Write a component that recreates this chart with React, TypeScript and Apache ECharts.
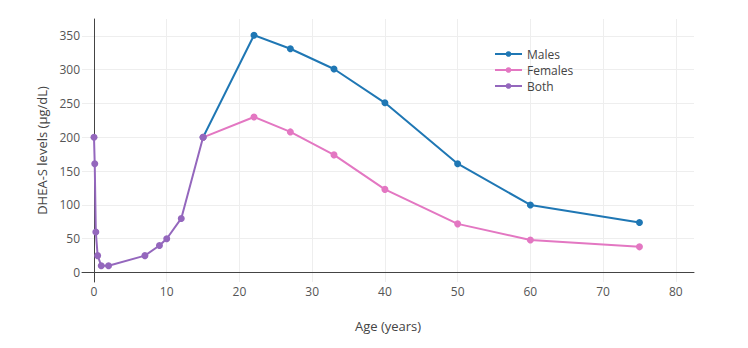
import React, { useEffect, useRef } from "react";
import * as echarts from "echarts";

const bothAges = [0, 0.1, 0.25, 0.5, 1, 2, 7, 9, 10, 12, 15];
const bothLevels = [200, 161, 60, 25, 10, 10, 25, 40, 50, 80, 200];
const adultAges = [15, 22, 27, 33, 40, 50, 60, 75];
const maleLevels = [200, 351, 331, 301, 251, 161, 100, 74];
const femaleLevels = [200, 230, 208, 174, 123, 72, 48, 38];
const xTicks = [0, 10, 20, 30, 40, 50, 60, 70, 80];
const yTicks = [0, 50, 100, 150, 200, 250, 300, 350];

const pair = (xs: number[], ys: number[]) => xs.map((x, i) => [x, ys[i]]);

export default function App() {
  const ref = useRef<HTMLDivElement>(null);
  useEffect(() => {
    document.body.style.margin = "0";
    if (!ref.current) return;
    const chart = echarts.init(ref.current, undefined, { renderer: "svg" });
    const font = "'Open Sans', sans-serif";
    const mkSeries = (name: string, color: string, data: number[][]) => ({
      name,
      type: "line",
      data,
      symbol: "circle",
      symbolSize: 7,
      showSymbol: true,
      lineStyle: { color, width: 2 },
      itemStyle: { color },
    });
    chart.setOption({
      animation: false,
      textStyle: { fontFamily: font },
      grid: { left: 82, right: 54, top: 19, bottom: 66 },
      legend: {
        orient: "vertical",
        left: 489,
        top: 43,
        itemWidth: 27,
        itemHeight: 7,
        itemGap: 4,
        textStyle: { color: "#444", fontSize: 12, fontFamily: font },
        data: ["Males", "Females", "Both"],
      },
      xAxis: {
        type: "value",
        min: -1.65,
        max: 82.5,
        name: "Age (years)",
        nameLocation: "middle",
        nameGap: 37,
        nameTextStyle: { color: "#444", fontSize: 13, fontFamily: font },
        axisLine: { show: true, onZero: true, lineStyle: { color: "#444", width: 1 } },
        axisTick: { show: false, customValues: xTicks },
        axisLabel: { customValues: xTicks, color: "#555", fontSize: 12, margin: 3, fontFamily: font },
        splitLine: { show: true, lineStyle: { color: "#eee", width: 1 } },
      },
      yAxis: {
        type: "value",
        min: -14,
        max: 375,
        name: "DHEA-S levels (μg/dL)",
        nameLocation: "middle",
        nameGap: 32,
        nameTextStyle: { color: "#444", fontSize: 13, fontFamily: font },
        axisLine: { show: true, onZero: true, lineStyle: { color: "#444", width: 1 } },
        axisTick: { show: false, customValues: yTicks },
        axisLabel: { customValues: yTicks, color: "#555", fontSize: 12, margin: 2, fontFamily: font },
        splitLine: { show: true, lineStyle: { color: "#eee", width: 1 } },
      },
      series: [
        mkSeries("Males", "#1f77b4", pair(adultAges, maleLevels)),
        mkSeries("Females", "#e377c2", pair(adultAges, femaleLevels)),
        mkSeries("Both", "#9467bd", pair(bothAges, bothLevels)),
      ],
    });
    return () => chart.dispose();
  }, []);
  return <div ref={ref} style={{ width: 748, height: 348 }} />;
}
